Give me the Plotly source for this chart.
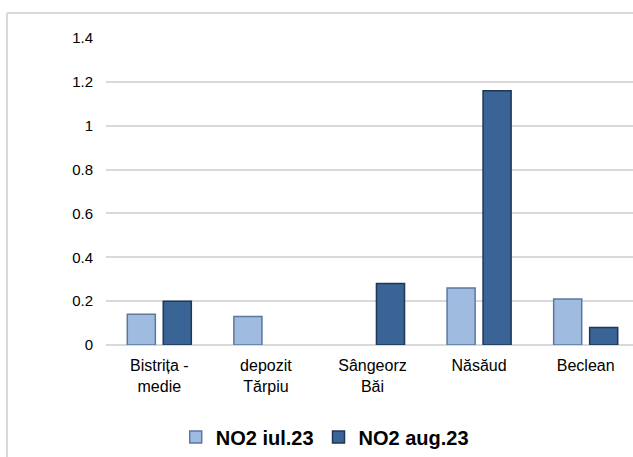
import plotly.graph_objects as go

categories = ["Bistrița -<br>medie", "depozit<br>Tărpiu", "Sângeorz<br>Băi", "Năsăud", "Beclean"]
no2_iul23 = [0.14, 0.13, None, 0.26, 0.21]
no2_aug23 = [0.20, None, 0.28, 1.16, 0.08]
y_ticks = [0, 0.2, 0.4, 0.6, 0.8, 1, 1.2, 1.4]
y_tick_labels = ["0", "0.2", "0.4", "0.6", "0.8", "1", "1.2", "1.4"]

W, H = 633, 457
ml, mr, mt, mb = 106, 0, 38, 112

fig = go.Figure()
fig.add_trace(go.Bar(
    x=categories, y=no2_iul23, name="NO2 iul.23",
    marker=dict(color="#9FBBE0", line=dict(color="#5B789F", width=1.5)),
))
fig.add_trace(go.Bar(
    x=categories, y=no2_aug23, name="NO2 aug.23",
    marker=dict(color="#3B6496", line=dict(color="#1E3756", width=1.5)),
))

# chart frame (cut off at right and bottom)
pw = W - ml - mr
ph = H - mt - mb
fx = (7 - ml) / pw
fy = 1 + (mt - 13) / ph
fig.add_shape(type="line", xref="paper", yref="paper", x0=fx, x1=fx, y0=-1, y1=fy,
              line=dict(color="#D9D9D9", width=2))
fig.add_shape(type="line", xref="paper", yref="paper", x0=fx, x1=1.5, y0=fy, y1=fy,
              line=dict(color="#D9D9D9", width=2))

fig.update_layout(
    width=W, height=H,
    margin=dict(l=ml, r=mr, t=mt, b=mb),
    paper_bgcolor="white", plot_bgcolor="white",
    font=dict(family="Liberation Sans, Arial, sans-serif", size=15, color="#000000"),
    barmode="group", bargap=0.325, bargroupgap=0.22,
    showlegend=True,
    legend=dict(orientation="h", x=0.415, xanchor="center", y=-0.30, yanchor="middle",
                font=dict(size=20, color="#000000", family="Liberation Sans, Arial, sans-serif", weight="bold"),
                itemwidth=30, traceorder="normal"),
    xaxis=dict(range=[-0.5, 4.5 - 6 / 106.75], showgrid=False, showline=False, ticks="",
               ticklabelstandoff=9,
               tickfont=dict(size=16, color="#000000"), zeroline=False, fixedrange=True),
    yaxis=dict(range=[0, 1.4], tickvals=y_ticks, ticktext=y_tick_labels,
               showgrid=True, gridcolor="#D9D9D9", gridwidth=1.5,
               zeroline=True, zerolinecolor="#D9D9D9", zerolinewidth=1.5,
               showline=False, ticks="", ticklabelstandoff=12,
               tickfont=dict(size=15, color="#000000")),
)

fig.write_html("out.html", config={"displayModeBar": False},
               post_script="document.body.style.margin='0';document.body.style.overflow='hidden';")
